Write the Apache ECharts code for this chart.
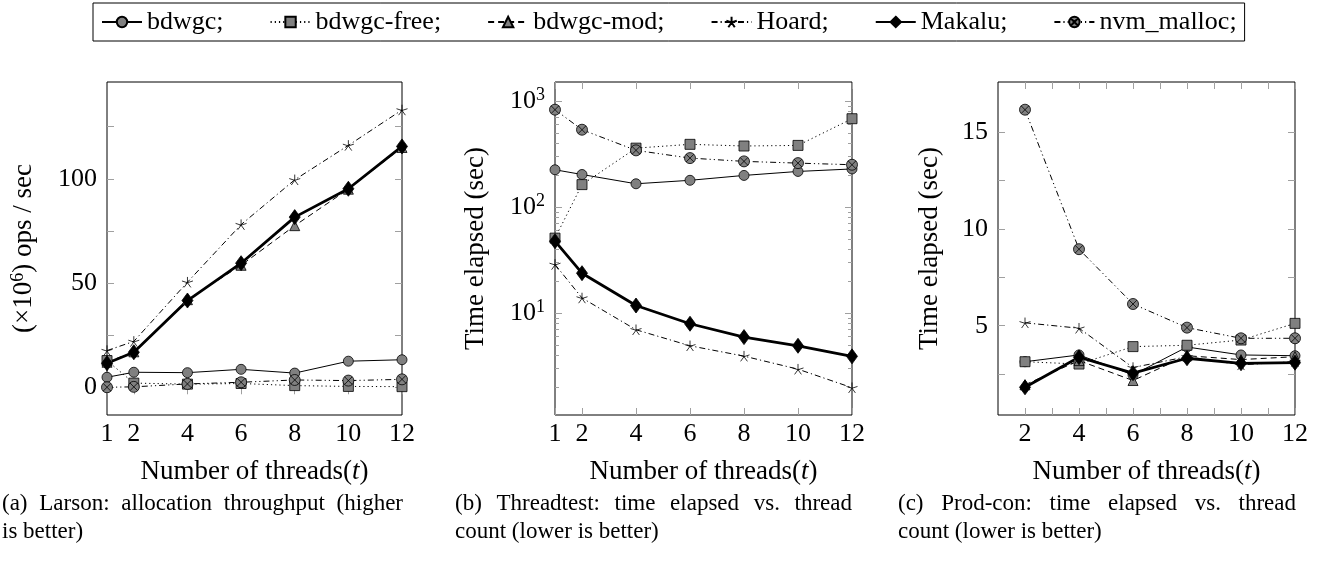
<!DOCTYPE html>
<html><head><meta charset="utf-8">
<script src="https://cdn.jsdelivr.net/npm/echarts@6/dist/echarts.min.js"></script>
<style>html,body{margin:0;padding:0;background:#fff}#c{width:1321px;height:564px}</style>
</head><body><div id="c"></div>
<script>
// ---------------- data ----------------
const seriesNames = ['bdwgc', 'bdwgc-free', 'bdwgc-mod', 'Hoard', 'Makalu', 'nvm_malloc'];
const threadsAB = [1, 2, 4, 6, 8, 10, 12];
const threadsC = [2, 4, 6, 8, 10, 12];

// (a) Larson: throughput (x10^6 ops/sec)
const larsonBdwgc     = [4.8, 7.2, 7.0, 8.6, 6.8, 12.5, 13.2];
const larsonBdwgcFree = [12.8, 2.0, 1.5, 1.8, 0.8, 0.4, 0.3];
const larsonBdwgcMod  = [12.0, 17.0, 42.0, 58.5, 77.5, 95.0, 115.0];
const larsonHoard     = [17.6, 22.0, 50.4, 78.0, 99.5, 116.0, 133.0];
const larsonMakalu    = [11.5, 16.8, 41.6, 59.5, 81.6, 95.2, 115.5];
const larsonNvm       = [0.0, 0.2, 1.6, 2.4, 3.5, 3.2, 3.8];

// (b) Threadtest: time elapsed (sec), log scale
const ttBdwgc     = [225, 203, 166, 179, 199, 217, 229];
const ttBdwgcFree = [51, 163, 360, 391, 377, 382, 682];
const ttHoard     = [28.8, 13.9, 6.97, 4.92, 3.93, 2.96, 1.98];
const ttMakalu    = [47.7, 23.8, 11.8, 7.94, 5.94, 4.92, 3.91];
const ttNvm       = [830, 537, 343, 290, 270, 260, 251];

// (c) Prod-con: time elapsed (sec)
const pcBdwgc     = [3.14, 3.49, 2.46, 3.9, 3.49, 3.45];
const pcBdwgcFree = [3.14, 3.02, 3.92, 3.99, 4.26, 5.12];
const pcBdwgcMod  = [1.95, 3.2, 2.17, 3.45, 3.25, 3.4];
const pcHoard     = [5.15, 4.87, 2.84, 3.4, 2.98, 3.15];
const pcMakalu    = [1.82, 3.37, 2.55, 3.32, 3.06, 3.09];
const pcNvm       = [16.15, 8.95, 6.12, 4.9, 4.35, 4.35];

// ticks / labels
const xTicksAB = [1, 2, 4, 6, 8, 10, 12];
const xTicksC = [2, 3, 4, 5, 6, 7, 8, 9, 10, 11, 12];
const xLabelsC = [2, 4, 6, 8, 10, 12];
const yTicksA = [0, 25, 50, 75, 100, 125];
const yLabelsA = [0, 50, 100];
const yMajorB = [10, 100, 1000];
const yMinorB = [2, 3, 4, 5, 6, 7, 8, 9, 20, 30, 40, 50, 60, 70, 80, 90, 200, 300, 400, 500, 600, 700, 800, 900];
const yTicksC = [2.5, 5, 7.5, 10, 12.5, 15];
const yLabelsC = [5, 10, 15];

const captionLines = [
  ['(a) Larson: allocation throughput (higher', 'is better)'],
  ['(b) Threadtest: time elapsed vs. thread', 'count (lower is better)'],
  ['(c) Prod-con: time elapsed vs. thread', 'count (lower is better)']
];

// ---------------- styles ----------------
const FONT = '"Liberation Serif", "Times New Roman", serif';
const FS = 26;      // tick labels
const TFS = 27;     // axis titles
const LFS = 26;     // legend
const GRAY = '#808080';
const TICK = '#a0a0a0';
const STAR = 'path://M0,-1 L0,0 M0.951,-0.309 L0,0 M0.588,0.809 L0,0 M-0.588,0.809 L0,0 M-0.951,-0.309 L0,0';
const OTIMES = 'path://M-1,0 A1,1 0 1,0 1,0 A1,1 0 1,0 -1,0 Z M-0.707,-0.707 L0.707,0.707 M0.707,-0.707 L-0.707,0.707';
const styleOf = {
  'bdwgc':      { symbol: 'circle', size: 10, dash: 'solid', width: 1, fill: GRAY },
  'bdwgc-free': { symbol: 'rect', size: 10, dash: [1.2, 3], width: 1, fill: GRAY },
  'bdwgc-mod':  { symbol: 'triangle', size: 10, dash: [6, 4], width: 1, fill: GRAY },
  'Hoard':      { symbol: STAR, size: 11, dash: [6, 3, 1.2, 3], width: 1, fill: 'none' },
  'Makalu':     { symbol: 'diamond', size: [11, 15], dash: 'solid', width: 2.8, fill: '#000' },
  'nvm_malloc': { symbol: OTIMES, size: 11, dash: [6, 3, 1.2, 3, 1.2, 3], width: 1, fill: GRAY }
};

function mkSeries(name, xs, ys, xi, yi) {
  const s = styleOf[name];
  return {
    type: 'line', name, xAxisIndex: xi, yAxisIndex: yi,
    data: xs.map((x, i) => [x, ys[i]]),
    symbol: s.symbol, symbolSize: s.size, symbolKeepAspect: true, showSymbol: true,
    lineStyle: { color: '#000', width: s.width, type: s.dash },
    itemStyle: { color: s.fill, borderColor: '#000', borderWidth: 0.8 },
    emphasis: { disabled: true }, silent: true, animation: false
  };
}

const grids = [
  { left: 107, top: 82, width: 295, height: 333 },
  { left: 555, top: 82, width: 297, height: 333 },
  { left: 998, top: 82, width: 297, height: 333 }
];
grids.forEach(g => { g.show = true; g.borderColor = '#000'; g.borderWidth = 1; g.backgroundColor = 'transparent'; });

const xName = 'Number of threads({i|t})';
const nameRich = {
  i: { fontFamily: FONT, fontSize: TFS, fontStyle: 'italic', color: '#000' },
  s: { fontFamily: FONT, fontSize: 18, color: '#000', padding: [0, 0, 12, 0] },
  b: { fontFamily: FONT, fontSize: FS, color: '#000' }
};

function xAxes(gi, ticks, labels) {
  const base = { type: 'value', gridIndex: gi, min: 1, max: 12, splitLine: { show: false }, axisLine: { show: false } };
  return [
    Object.assign({}, base, {
      position: 'bottom',
      axisTick: { show: true, inside: true, length: 7, lineStyle: { color: TICK, width: 1 }, customValues: ticks },
      axisLabel: { show: true, customValues: labels, margin: 6, fontFamily: FONT, fontSize: FS, color: '#000' },
      name: xName, nameLocation: 'middle', nameGap: 43,
      nameTextStyle: { fontFamily: FONT, fontSize: TFS, color: '#000', rich: nameRich }
    }),
    Object.assign({}, base, {
      position: 'top',
      axisTick: { show: true, inside: true, length: 7, lineStyle: { color: TICK, width: 1 }, customValues: ticks },
      axisLabel: { show: false }
    })
  ];
}

function yAxis(gi, cfg) {
  return Object.assign({
    gridIndex: gi, splitLine: { show: false }, axisLine: { show: false },
    axisLabel: { show: false }
  }, cfg);
}

const xAxisList = [].concat(
  xAxes(0, xTicksAB, xTicksAB),
  xAxes(1, xTicksAB, xTicksAB),
  xAxes(2, xTicksC, xLabelsC)
);

const tickMajor = (vals, len) => ({ show: true, inside: true, length: len, lineStyle: { color: TICK, width: 1 }, customValues: vals });
const labelCfg = (vals, fmt) => ({ show: true, customValues: vals, margin: 10, fontFamily: FONT, fontSize: FS, color: '#000', formatter: fmt, rich: nameRich });

const yAMin = -13.3, yAMax = 146.4;
const yBMin = 1.094, yBMax = 1514;
const yCMin = 0.39, yCMax = 17.58;

const yAxisList = [
  // grid a: 0 left, 1 right
  yAxis(0, { type: 'value', min: yAMin, max: yAMax, position: 'left',
    axisTick: tickMajor(yTicksA, 7), axisLabel: labelCfg(yLabelsA),
    name: '(×10{s|6}) ops / sec', nameLocation: 'middle', nameGap: 68, nameRotate: 90,
    nameTextStyle: { fontFamily: FONT, fontSize: TFS, color: '#000', rich: nameRich } }),
  yAxis(0, { type: 'value', min: yAMin, max: yAMax, position: 'right', axisTick: tickMajor(yTicksA, 7) }),
  // grid b: 2 left major, 3 right major, 4 left minor, 5 right minor
  yAxis(1, { type: 'log', logBase: 10, min: yBMin, max: yBMax, position: 'left',
    axisTick: tickMajor(yMajorB, 7),
    axisLabel: labelCfg(yMajorB, v => '{b|10}{s|' + Math.round(Math.log10(v)) + '}'),
    name: 'Time elapsed (sec)', nameLocation: 'middle', nameGap: 66, nameRotate: 90,
    nameTextStyle: { fontFamily: FONT, fontSize: TFS, color: '#000' } }),
  yAxis(1, { type: 'log', logBase: 10, min: yBMin, max: yBMax, position: 'right', axisTick: tickMajor(yMajorB, 7) }),
  yAxis(1, { type: 'log', logBase: 10, min: yBMin, max: yBMax, position: 'left', axisTick: tickMajor(yMinorB, 4) }),
  yAxis(1, { type: 'log', logBase: 10, min: yBMin, max: yBMax, position: 'right', axisTick: tickMajor(yMinorB, 4) }),
  // grid c: 6 left, 7 right
  yAxis(2, { type: 'value', min: yCMin, max: yCMax, position: 'left',
    axisTick: tickMajor(yTicksC, 7), axisLabel: labelCfg(yLabelsC),
    name: 'Time elapsed (sec)', nameLocation: 'middle', nameGap: 55, nameRotate: 90,
    nameTextStyle: { fontFamily: FONT, fontSize: TFS, color: '#000' } }),
  yAxis(2, { type: 'value', min: yCMin, max: yCMax, position: 'right', axisTick: tickMajor(yTicksC, 7) })
];

const series = [
  mkSeries('bdwgc', threadsAB, larsonBdwgc, 0, 0),
  mkSeries('bdwgc-free', threadsAB, larsonBdwgcFree, 0, 0),
  mkSeries('bdwgc-mod', threadsAB, larsonBdwgcMod, 0, 0),
  mkSeries('Hoard', threadsAB, larsonHoard, 0, 0),
  mkSeries('Makalu', threadsAB, larsonMakalu, 0, 0),
  mkSeries('nvm_malloc', threadsAB, larsonNvm, 0, 0),

  mkSeries('bdwgc', threadsAB, ttBdwgc, 2, 2),
  mkSeries('bdwgc-free', threadsAB, ttBdwgcFree, 2, 2),
  mkSeries('Hoard', threadsAB, ttHoard, 2, 2),
  mkSeries('Makalu', threadsAB, ttMakalu, 2, 2),
  mkSeries('nvm_malloc', threadsAB, ttNvm, 2, 2),

  mkSeries('bdwgc', threadsC, pcBdwgc, 4, 6),
  mkSeries('bdwgc-free', threadsC, pcBdwgcFree, 4, 6),
  mkSeries('bdwgc-mod', threadsC, pcBdwgcMod, 4, 6),
  mkSeries('Hoard', threadsC, pcHoard, 4, 6),
  mkSeries('Makalu', threadsC, pcMakalu, 4, 6),
  mkSeries('nvm_malloc', threadsC, pcNvm, 4, 6)
];

// ---------------- captions (justified first line) ----------------
const CAP_FS = 23;
const capBoxes = [[2, 403], [455, 852], [898, 1296]];
const capY = [504, 532];
const mctx = document.createElement('canvas').getContext('2d');
mctx.font = CAP_FS + 'px ' + FONT;
const graphics = [];
captionLines.forEach((lines, ci) => {
  lines.forEach((line, li) => {
    const words = line.split(' ');
    const widths = words.map(w => mctx.measureText(w).width);
    const total = widths.reduce((a, b) => a + b, 0);
    const justify = li === 0;
    const gap = justify ? (capBoxes[ci][1] - capBoxes[ci][0] - total) / (words.length - 1) : mctx.measureText(' ').width;
    let x = capBoxes[ci][0];
    words.forEach((w, wi) => {
      graphics.push({ type: 'text', x: x, y: capY[li], silent: true,
        style: { text: w, fontFamily: FONT, fontSize: CAP_FS, fill: '#000', verticalAlign: 'middle', align: 'left' } });
      x += widths[wi] + gap;
    });
  });
});

const chart = echarts.init(document.getElementById('c'), null, { renderer: 'canvas' });
chart.setOption({
  animation: false,
  backgroundColor: '#fff',
  grid: grids,
  xAxis: xAxisList,
  yAxis: yAxisList,
  legend: {
    show: true, left: 93, top: 3, orient: 'horizontal',
    data: seriesNames, formatter: n => n + ';',
    itemWidth: 40, itemHeight: 13, itemGap: 46,
    borderColor: '#000', borderWidth: 1, borderRadius: 0, padding: [6, 8],
    selectedMode: false,
    textStyle: { fontFamily: FONT, fontSize: LFS, color: '#000' }
  },
  graphic: graphics,
  series: series
});
</script>
</body></html>
